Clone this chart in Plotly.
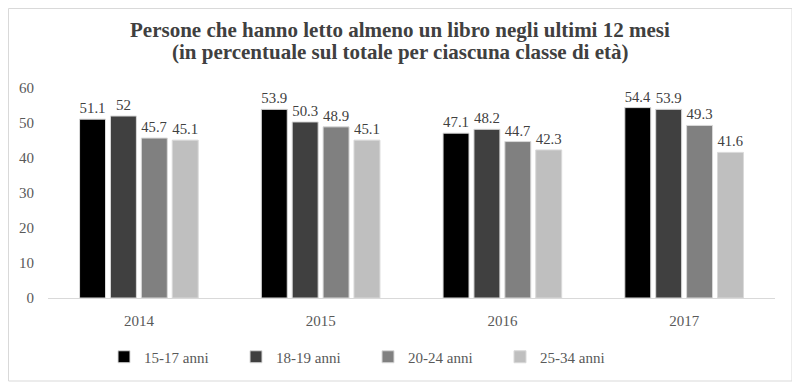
import plotly.graph_objects as go

years = ["2014", "2015", "2016", "2017"]
series_names = ["15-17 anni", "18-19 anni", "20-24 anni", "25-34 anni"]
v_15_17 = [51.1, 53.9, 47.1, 54.4]
v_18_19 = [52, 50.3, 48.2, 53.9]
v_20_24 = [45.7, 48.9, 44.7, 49.3]
v_25_34 = [45.1, 45.1, 42.3, 41.6]
colors = ["#000000", "#404040", "#808080", "#bfbfbf"]
title_line1 = "Persone che hanno letto almeno un libro negli ultimi 12 mesi"
title_line2 = "(in percentuale sul totale per ciascuna classe di età)"

FONT = "Liberation Serif"

# plot area in figure pixels (page has an 8px body margin)
L, R, T, B = 40, 767, 80, 290
PW, PH = R - L, B - T

def px(x):
    return (x - L) / PW

def py(y):
    return (B - y) / PH

fig = go.Figure()
for name, vals, col in zip(series_names, [v_15_17, v_18_19, v_20_24, v_25_34], colors):
    fig.add_trace(go.Bar(
        x=years, y=vals, name=name,
        marker=dict(color=col, line=dict(color="#d9d9d9", width=1)),
        text=[str(v) for v in vals], textposition="outside",
        textfont=dict(family=FONT, size=15, color="#404040"),
        cliponaxis=False,
    ))

fig.update_layout(
    width=800, height=388,
    margin=dict(l=L, r=800 - R, t=T, b=388 - B, autoexpand=False),
    paper_bgcolor="white", plot_bgcolor="white",
    barmode="group", bargap=0.32, bargroupgap=0.16,
    font=dict(family=FONT, color="#595959", size=15),
    xaxis=dict(showline=True, linecolor="#d9d9d9", linewidth=1, ticks="",
               tickfont=dict(family=FONT, size=15, color="#595959"), showgrid=False,
               ticklabelstandoff=9),
    yaxis=dict(range=[0, 60], dtick=10, showgrid=False, zeroline=False, showline=False,
               tickfont=dict(family=FONT, size=15, color="#595959"), ticklabelstandoff=13),
    legend=dict(orientation="h", x=px(96), y=py(349), xanchor="left", yanchor="middle",
                entrywidth=87, entrywidthmode="pixels", itemwidth=30,
                font=dict(family=FONT, size=15, color="#595959"), traceorder="normal"),
    annotations=[
        dict(text="<b>" + title_line1 + "</b>", xref="paper", yref="paper",
             x=px(392), y=py(22), xanchor="center", yanchor="middle", showarrow=False,
             font=dict(family=FONT, size=21, color="#404040")),
        dict(text="<b>" + title_line2 + "</b>", xref="paper", yref="paper",
             x=px(392), y=py(44), xanchor="center", yanchor="middle", showarrow=False,
             font=dict(family=FONT, size=21, color="#404040")),
    ],
    shapes=[dict(type="rect", xref="paper", yref="paper",
                 x0=px(0.5), x1=px(784),
                 y0=py(373), y1=py(0.5),
                 line=dict(color="#d9d9d9", width=1), fillcolor="rgba(0,0,0,0)", layer="below")],
)

fig.write_html("out.html")
